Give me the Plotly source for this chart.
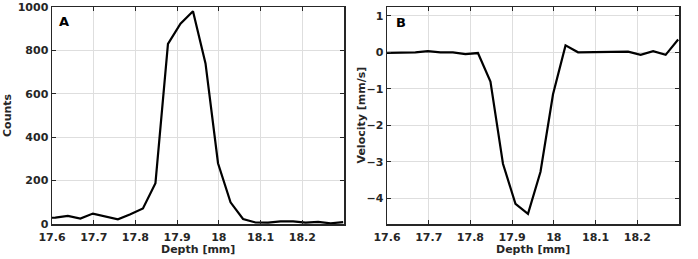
import plotly.graph_objects as go

# ---- data ----
depth = [17.578, 17.608, 17.638, 17.668, 17.698, 17.728, 17.758, 17.788, 17.818,
         17.848, 17.878, 17.908, 17.938, 17.968, 17.998, 18.028, 18.058, 18.088,
         18.118, 18.148, 18.178, 18.208, 18.238, 18.268, 18.298]
counts = [28, 29, 37, 25, 48, 36, 22, 45, 72, 188, 830, 923, 980, 740, 280, 100,
          23, 7, 6, 12, 12, 6, 10, 3, 9]
velocity = [-0.02, -0.02, 0.0, 0.0, 0.03, 0.0, 0.0, -0.05, -0.02, -0.80, -3.05,
            -4.15, -4.42, -3.27, -1.15, 0.19, 0.0, 0.0, 0.0, 0.0, 0.02, -0.07,
            0.03, -0.07, 0.35]

x_ticks = [17.6, 17.7, 17.8, 17.9, 18.0, 18.1, 18.2]
x_ticktext = ["17.6", "17.7", "17.8", "17.9", "18", "18.1", "18.2"]
counts_ticks = [0, 200, 400, 600, 800, 1000]
vel_ticks = [-4, -3, -2, -1, 0, 1]

W, H = 698, 259
INK = "#262626"
GRID = "#dedede"
FONT = "DejaVu Sans"

fig = go.Figure()
fig.add_trace(go.Scatter(x=depth, y=counts, mode="lines",
                         line=dict(color="black", width=2.2),
                         xaxis="x", yaxis="y", showlegend=False, hoverinfo="skip"))
fig.add_trace(go.Scatter(x=depth, y=velocity, mode="lines",
                         line=dict(color="black", width=2.2),
                         xaxis="x2", yaxis="y2", showlegend=False, hoverinfo="skip"))

tickfont = dict(family=FONT, size=11, color=INK, weight="bold")


def xax(domain, anchor):
    return dict(domain=domain, anchor=anchor, range=[17.6, 18.3],
                tickmode="array", tickvals=x_ticks, ticktext=x_ticktext,
                ticks="inside", ticklen=4, tickwidth=1, tickcolor=INK,
                showline=True, mirror="allticks", linecolor=INK, linewidth=1.5,
                showgrid=True, gridcolor=GRID, gridwidth=1, zeroline=False,
                tickfont=tickfont, fixedrange=True, automargin=False,
                ticklabelstandoff=2)


def yax(domain, anchor, rng, vals):
    return dict(domain=domain, anchor=anchor, range=rng,
                tickmode="array", tickvals=vals,
                ticks="inside", ticklen=4, tickwidth=1, tickcolor=INK,
                showline=True, mirror="allticks", linecolor=INK, linewidth=1.5,
                showgrid=True, gridcolor=GRID, gridwidth=1, zeroline=False,
                tickfont=tickfont, fixedrange=True, automargin=False)


ydom = [35 / H, 1 - 7 / H]
fig.update_layout(
    template="none",
    width=W, height=H,
    margin=dict(l=0, r=0, t=0, b=0, pad=0, autoexpand=False),
    paper_bgcolor="white", plot_bgcolor="white",
    xaxis=xax([52 / W, 344 / W], "y"),
    yaxis=yax(ydom, "x", [0, 1000], counts_ticks),
    xaxis2=xax([387 / W, 679 / W], "y2"),
    yaxis2=yax(ydom, "x2", [-4.7, 1.24], vel_ticks),
)

labfont = dict(family=FONT, size=11, color=INK, weight="bold")
ann = [
    dict(text="Depth [mm]", x=198 / W, y=1 - 249 / H),
    dict(text="Depth [mm]", x=533 / W, y=1 - 249 / H),
    dict(text="Counts", x=7.5 / W, y=1 - 115.5 / H, textangle=-90),
    dict(text="Velocity [mm/s]", x=361 / W, y=1 - 115.5 / H, textangle=-90),
]
for a in ann:
    fig.add_annotation(xref="paper", yref="paper", showarrow=False,
                       xanchor="center", yanchor="middle", font=labfont, **a)

letfont = dict(family=FONT, size=13, color="black", weight="bold")
fig.add_annotation(text="A", xref="paper", yref="paper", x=56.5 / W, y=1 - 21.5 / H,
                   xanchor="left", yanchor="middle", showarrow=False, font=letfont)
fig.add_annotation(text="B", xref="paper", yref="paper", x=393.5 / W, y=1 - 22 / H,
                   xanchor="left", yanchor="middle", showarrow=False, font=letfont)

fig.write_html("out.html",
               config={"displayModeBar": False, "staticPlot": True},
               post_script="document.body.style.margin='0';document.body.style.overflow='hidden';")
